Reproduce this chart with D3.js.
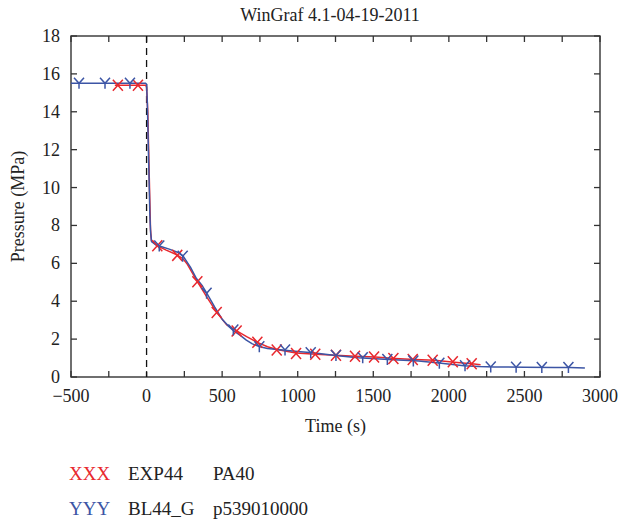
<!DOCTYPE html>
<html>
<head>
<meta charset="utf-8">
<script src="https://cdn.jsdelivr.net/npm/d3@7"></script>
<style>
  html, body { margin: 0; padding: 0; background: #fff; }
  svg text { font-family: "Liberation Serif", "DejaVu Serif", serif; fill: #222; }
</style>
</head>
<body>
<svg id="chart" width="622" height="520"></svg>
<script>
// Experiment EXP44 (PA40): time [s] and pressure [MPa]
const expTime = [-210, -5, 0, 8, 18, 26, 32, 70, 130, 200, 240, 270, 336, 400, 464, 530, 596, 662, 733, 800, 861, 989, 1120, 1251, 1382, 1513, 1644, 1775, 1906, 2037, 2168, 2210];
const expPres = [15.4, 15.4, 15.3, 14.0, 10.5, 7.8, 7.2, 6.93, 6.7, 6.45, 6.25, 5.95, 5.03, 4.2, 3.41, 2.75, 2.43, 2.13, 1.83, 1.6, 1.45, 1.27, 1.2, 1.15, 1.1, 1.05, 0.98, 0.92, 0.88, 0.78, 0.68, 0.65];
// Marker positions on the experiment curve
const expMarkT = [-190, -57, 71, 203, 336, 464, 596, 733, 861, 989, 1116, 1253, 1379, 1505, 1633, 1761, 1893, 2026, 2151];
const expMarkP = [15.4, 15.4, 6.93, 6.42, 5.03, 3.41, 2.43, 1.83, 1.43, 1.24, 1.2, 1.15, 1.1, 1.06, 0.98, 0.93, 0.88, 0.8, 0.7];

// Calculation BL44_G (p539010000)
const calcTime = [-500, -5, 0, 5, 15, 22, 27, 33, 60, 90, 150, 200, 240, 265, 290, 330, 370, 400, 450, 500, 540, 575, 620, 660, 700, 750, 800, 900, 1000, 1100, 1250, 1400, 1600, 1800, 1950, 2100, 2200, 2300, 2500, 2700, 2800, 2900];
const calcPres = [15.5, 15.5, 15.45, 14.5, 11.0, 8.5, 7.6, 7.15, 6.98, 6.9, 6.75, 6.6, 6.4, 6.1, 5.8, 5.2, 4.8, 4.4, 3.7, 3.05, 2.7, 2.45, 2.2, 1.95, 1.75, 1.6, 1.5, 1.42, 1.35, 1.28, 1.14, 1.02, 0.92, 0.84, 0.72, 0.6, 0.55, 0.53, 0.52, 0.5, 0.5, 0.47];
const calcMarkT = [-447, -275, -110, 84, 239, 397, 574, 746, 916, 1086, 1253, 1430, 1593, 1765, 1937, 2107, 2277, 2445, 2615, 2791];
const calcMarkP = [15.5, 15.5, 15.5, 6.92, 6.38, 4.42, 2.48, 1.6, 1.43, 1.28, 1.14, 1.01, 0.92, 0.84, 0.72, 0.59, 0.53, 0.52, 0.5, 0.5];

// Axis ticks and labels
const xTicks = d3.range(-500, 3001, 250);
const xLabels = [-500, 0, 500, 1000, 1500, 2000, 2500, 3000];
const yTicks = [0, 2, 4, 6, 8, 10, 12, 14, 16, 18];

const titleText = "WinGraf 4.1-04-19-2011";
const legendRows = [
  { sym: "XXX", name: "EXP44", tag: "PA40", color: "#e8282e" },
  { sym: "YYY", name: "BL44_G", tag: "p539010000", color: "#3c55a5" }
];

const RED = legendRows[0].color, BLUE = legendRows[1].color;
const svg = d3.select("#chart");
const L = 71, R = 600, T = 36, B = 377;

const x = d3.scaleLinear().domain([-500, 3000]).range([L, R]);
const y = d3.scaleLinear().domain([0, 18]).range([B, T]);

// frame
svg.append("rect").attr("x", L).attr("y", T).attr("width", R - L).attr("height", B - T)
  .attr("fill", "none").attr("stroke", "#333").attr("stroke-width", 1.4);

// inward ticks on all four sides
const tickLen = 6;
const tk = svg.append("g").attr("stroke", "#333").attr("stroke-width", 1.3);
xTicks.forEach(v => {
  tk.append("line").attr("x1", x(v)).attr("x2", x(v)).attr("y1", B).attr("y2", B - tickLen);
  tk.append("line").attr("x1", x(v)).attr("x2", x(v)).attr("y1", T).attr("y2", T + tickLen);
});
yTicks.forEach(v => {
  tk.append("line").attr("x1", L).attr("x2", L + tickLen).attr("y1", y(v)).attr("y2", y(v));
  tk.append("line").attr("x1", R).attr("x2", R - tickLen).attr("y1", y(v)).attr("y2", y(v));
});

// tick labels
const fmt = v => (v < 0 ? "\u2212" + Math.abs(v) : String(v));
svg.append("g").selectAll("text").data(xLabels).join("text")
  .attr("x", d => x(d)).attr("y", 402).attr("text-anchor", "middle")
  .attr("font-size", 18).text(fmt);
svg.append("g").selectAll("text").data(yTicks).join("text")
  .attr("x", 60).attr("y", d => y(d) + 6).attr("text-anchor", "end")
  .attr("font-size", 18).text(fmt);

// axis titles and chart title
svg.append("text").attr("x", (L + R) / 2).attr("y", 432).attr("text-anchor", "middle")
  .attr("font-size", 18).text("Time (s)");
svg.append("text").attr("transform", `translate(24,${(T + B) / 2}) rotate(-90)`)
  .attr("text-anchor", "middle").attr("font-size", 18).text("Pressure (MPa)");
svg.append("text").attr("x", 330).attr("y", 21).attr("text-anchor", "middle")
  .attr("font-size", 18).text(titleText);

// start of transient
svg.append("line").attr("x1", x(0)).attr("x2", x(0)).attr("y1", T).attr("y2", B)
  .attr("stroke", "#111").attr("stroke-width", 1.3).attr("stroke-dasharray", "7,5");

// curves
const line = d3.line().x(d => x(d[0])).y(d => y(d[1]));
const expPts = expTime.map((t, i) => [t, expPres[i]]);
const calcPts = calcTime.map((t, i) => [t, calcPres[i]]);
svg.append("path").datum(expPts).attr("d", line).attr("fill", "none")
  .attr("stroke", RED).attr("stroke-width", 1.5).attr("stroke-linejoin", "round");
svg.append("path").datum(calcPts).attr("d", line).attr("fill", "none")
  .attr("stroke", BLUE).attr("stroke-width", 1.5).attr("stroke-linejoin", "round");

// markers
const s = 5;
const xMark = svg.append("g").attr("stroke", RED).attr("stroke-width", 1.5).attr("fill", "none");
expMarkT.forEach((t, i) => {
  const cx = x(t), cy = y(expMarkP[i]);
  xMark.append("path").attr("d", `M${cx - s},${cy - s - 0.5}L${cx + s},${cy + s + 0.5}M${cx + s},${cy - s - 0.5}L${cx - s},${cy + s + 0.5}`);
});
const yMark = svg.append("g").attr("stroke", BLUE).attr("stroke-width", 1.5).attr("fill", "none");
calcMarkT.forEach((t, i) => {
  const cx = x(t), cy = y(calcMarkP[i]);
  yMark.append("path").attr("d", `M${cx - s},${cy - 5.5}L${cx},${cy}L${cx + s},${cy - 5.5}M${cx},${cy}L${cx},${cy + 5.5}`);
});

// legend
legendRows.forEach((r, i) => {
  const by = 480 + i * 35;
  svg.append("text").attr("x", 69).attr("y", by).attr("font-size", 19)
    .style("fill", r.color).text(r.sym);
  svg.append("text").attr("x", 128).attr("y", by).attr("font-size", 19).text(r.name);
  svg.append("text").attr("x", 213).attr("y", by).attr("font-size", 19).text(r.tag);
});
</script>
</body>
</html>
